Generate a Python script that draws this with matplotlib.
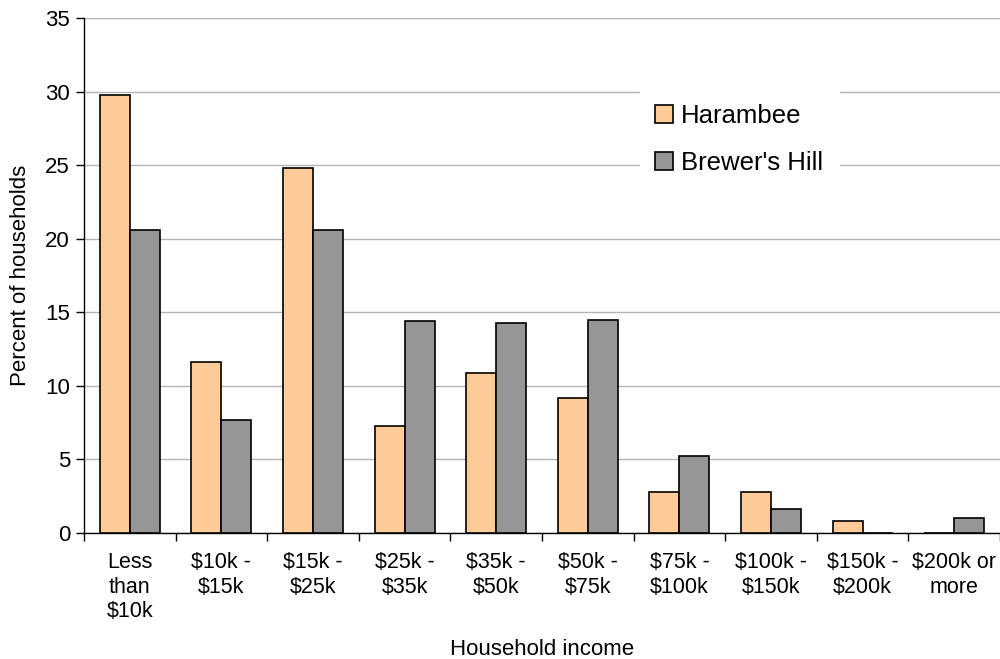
import numpy as np
import matplotlib.pyplot as plt

plt.rcParams['font.family'] = ['Liberation Sans', 'DejaVu Sans']

categories = [
    "Less\nthan\n$10k", "$10k -\n$15k", "$15k -\n$25k", "$25k -\n$35k",
    "$35k -\n$50k", "$50k -\n$75k", "$75k -\n$100k", "$100k -\n$150k",
    "$150k -\n$200k", "$200k or\nmore"
]
harambee = [29.8, 11.6, 24.8, 7.3, 10.9, 9.2, 2.8, 2.8, 0.8, 0.0]
brewers_hill = [20.6, 7.7, 20.6, 14.4, 14.3, 14.5, 5.2, 1.6, 0.0, 1.0]

fig = plt.figure(figsize=(10, 6.59), dpi=100)
ax = fig.add_axes([0.084, 0.1912, 0.916, 0.7815])

x = np.arange(len(categories))
w = 0.327
ax.bar(x - w / 2, harambee, w, color="#FFCC99", edgecolor="black",
       linewidth=1.2, label="Harambee", zorder=3)
ax.bar(x + w / 2, brewers_hill, w, color="#969696", edgecolor="black",
       linewidth=1.2, label="Brewer's Hill", zorder=3)

ax.set_xlim(-0.5, len(categories) - 0.5)
ax.set_ylim(0, 35)
ax.set_yticks(range(0, 36, 5))
ax.yaxis.grid(True, color="#b4b4b4", linewidth=1.0, zorder=0)
ax.set_axisbelow(True)

ax.set_xticks(x)
ax.set_xticklabels(categories, fontsize=15.5, linespacing=1.22)
ax.set_xticks(np.arange(-0.5, len(categories), 1), minor=True)
ax.tick_params(axis="x", which="major", length=0, pad=14)
ax.tick_params(axis="x", which="minor", length=6, width=1, direction="out")
ax.tick_params(axis="y", length=6, width=1, labelsize=16, pad=4)

for s in ["top", "right"]:
    ax.spines[s].set_visible(False)
for s in ["left", "bottom"]:
    ax.spines[s].set_color("black")
    ax.spines[s].set_linewidth(1.0)

ax.set_xlabel("Household income", fontsize=16)
ax.xaxis.set_label_coords(0.5, -0.205)
ax.set_ylabel("Percent of households", fontsize=16, labelpad=10)

leg = ax.legend(loc="upper left", bbox_to_anchor=(0.593, 0.888),
                fontsize=18.5, frameon=True, fancybox=False,
                edgecolor="white", facecolor="white", framealpha=1,
                handlelength=0.7, handleheight=0.7, handletextpad=0.3,
                labelspacing=0.9, borderpad=0.6)
leg.set_zorder(5)

fig.savefig("out.png", dpi=100)
